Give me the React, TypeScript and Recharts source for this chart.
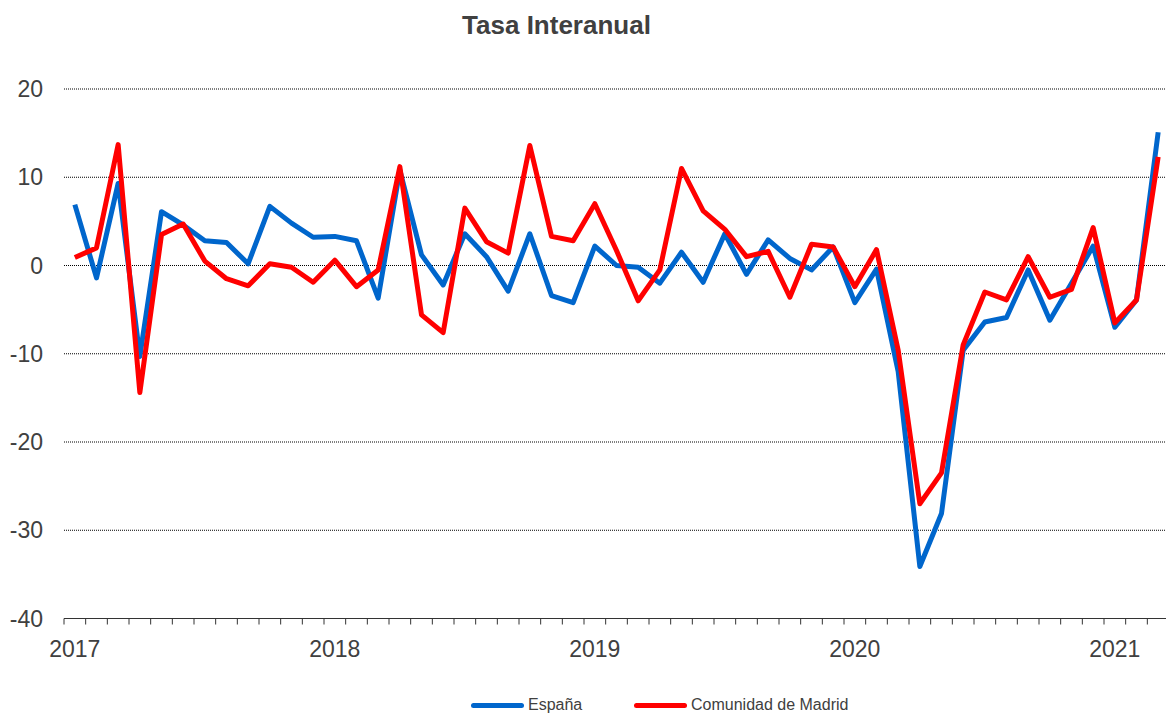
import React from "react";
import { ComposedChart, Line, XAxis, YAxis, CartesianGrid } from "recharts";

const categories = [
  "2017-01","2017-02","2017-03","2017-04","2017-05","2017-06","2017-07","2017-08","2017-09","2017-10","2017-11","2017-12",
  "2018-01","2018-02","2018-03","2018-04","2018-05","2018-06","2018-07","2018-08","2018-09","2018-10","2018-11","2018-12",
  "2019-01","2019-02","2019-03","2019-04","2019-05","2019-06","2019-07","2019-08","2019-09","2019-10","2019-11","2019-12",
  "2020-01","2020-02","2020-03","2020-04","2020-05","2020-06","2020-07","2020-08","2020-09","2020-10","2020-11","2020-12",
  "2021-01","2021-02","2021-03",
];

const espana = [
  6.9, -1.4, 9.3, -10.3, 6.1, 4.6, 2.8, 2.6, 0.2, 6.7, 4.8, 3.2,
  3.3, 2.8, -3.7, 10.8, 1.2, -2.2, 3.6, 1.0, -2.9, 3.6, -3.4, -4.2,
  2.2, 0.0, -0.2, -2.0, 1.5, -1.9, 3.6, -1.0, 2.9, 0.8, -0.5, 2.1,
  -4.2, -0.4, -12.0, -34.1, -28.1, -9.6, -6.4, -5.9, -0.5, -6.2, -2.0, 2.2,
  -7.0, -3.9, 15.1,
];

const madrid = [
  0.9, 2.0, 13.7, -14.4, 3.5, 4.7, 0.5, -1.5, -2.3, 0.2, -0.2, -1.9,
  0.6, -2.4, -0.5, 11.2, -5.6, -7.6, 6.5, 2.7, 1.4, 13.6, 3.3, 2.8,
  7.0, 1.7, -4.0, -0.5, 11.0, 6.2, 4.1, 1.0, 1.6, -3.6, 2.4, 2.1,
  -2.4, 1.8, -9.6, -27.0, -23.5, -9.0, -3.0, -3.9, 1.0, -3.6, -2.7, 4.3,
  -6.5, -3.9, 12.3,
];

const yTicks = [-40, -30, -20, -10, 0, 10, 20];

const seriesNames = { espana: "España", madrid: "Comunidad de Madrid" };
const title = "Tasa Interanual";

const data = categories.map((c, i) => ({ month: c, espana: espana[i], madrid: madrid[i] }));

const BLUE = "#0066CC";
const RED = "#FF0000";
const FONT = "Arial, 'Liberation Sans', sans-serif";

const MonthTick = (props: any) => {
  const { x, y, payload } = props;
  const half = payload && payload.offset ? payload.offset : 1105 / 51 / 2;
  const value: string = payload.value;
  const isYear = value.endsWith("-01");
  return (
    <g>
      <line x1={x - half} x2={x - half} y1={y} y2={y + 6} stroke="#333" strokeWidth={1} />
      {isYear && (
        <text x={x} y={y + 38} textAnchor="middle" fontSize={23} fill="#404040" fontFamily={FONT}>
          {value.slice(0, 4)}
        </text>
      )}
    </g>
  );
};

export default function App() {
  return (
    <div style={{ position: "absolute", left: 0, top: 0, width: 1166, height: 713, overflow: "hidden", background: "#fff", fontFamily: FONT }}>
      <div style={{ position: "absolute", left: 0, top: 12, width: 1113, textAlign: "center", fontSize: 26, lineHeight: "26px", fontWeight: "bold", color: "#404040" }}>
        {title}
      </div>
      <ComposedChart width={1170} height={713} data={data} margin={{ top: 89, right: 1, bottom: 54.5, left: 0 }}>
        <CartesianGrid vertical={false} stroke="#000" strokeDasharray="1 1" />
        <XAxis
          dataKey="month"
          scale="band"
          interval={0}
          height={40}
          tickSize={0}
          tickMargin={0}
          tickLine={false}
          axisLine={{ stroke: "#333", strokeWidth: 1 }}
          tick={<MonthTick />}
        />
        <YAxis
          domain={[-40, 20]}
          ticks={yTicks}
          width={64}
          tickLine={false}
          axisLine={false}
          tickSize={0}
          tickMargin={21}
          tick={{ fontSize: 23, fill: "#404040", fontFamily: FONT }}
        />
        <Line type="linear" dataKey="espana" name={seriesNames.espana} stroke={BLUE} strokeWidth={5} dot={false} isAnimationActive={false} strokeLinejoin="round" />
        <Line type="linear" dataKey="madrid" name={seriesNames.madrid} stroke={RED} strokeWidth={5} dot={false} isAnimationActive={false} strokeLinejoin="round" />
      </ComposedChart>
      {[
        { left: 471, color: BLUE, label: seriesNames.espana },
        { left: 634, color: RED, label: seriesNames.madrid },
      ].map((it) => (
        <div key={it.label} style={{ position: "absolute", left: it.left, top: 697, display: "flex", alignItems: "center", fontSize: 16, lineHeight: "16px", color: "#404040" }}>
          <span style={{ display: "inline-block", width: 53, height: 5, borderRadius: 3, background: it.color, marginRight: 4, marginTop: 1 }} />
          <span>{it.label}</span>
        </div>
      ))}
    </div>
  );
}
